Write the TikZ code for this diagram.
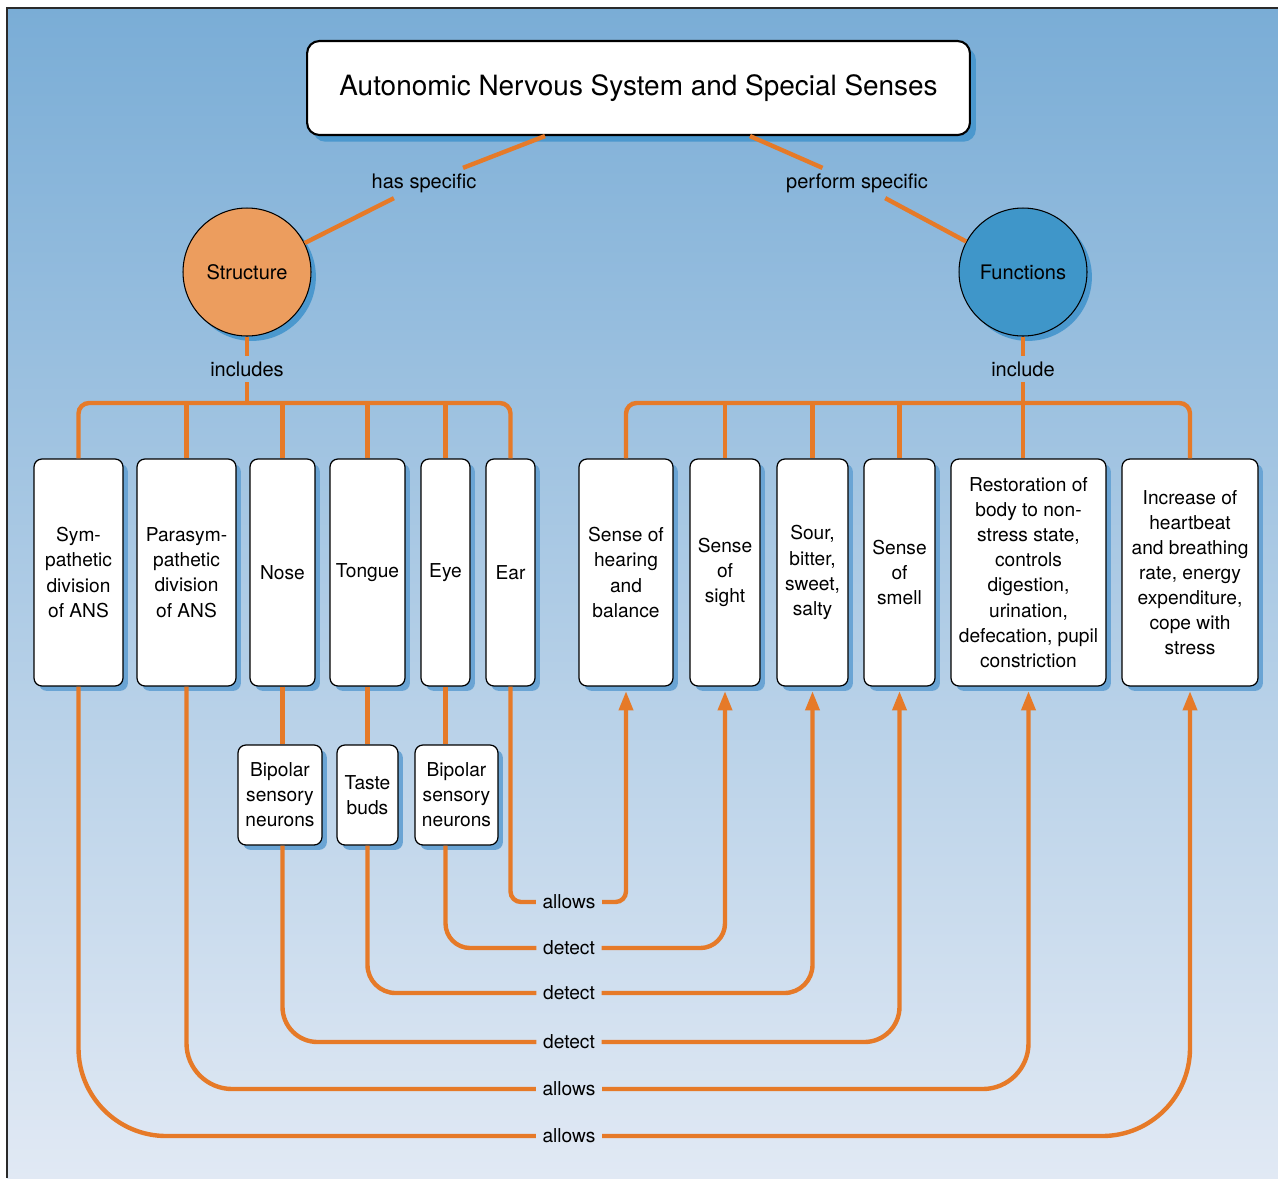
\documentclass[tikz,border=0pt]{standalone}
\usepackage{fontspec}
\setmainfont{TeX Gyre Heros}
\usetikzlibrary{shadows,arrows.meta}
\definecolor{bgtop}{HTML}{7AADD6}
\definecolor{bgbot}{HTML}{E1E9F4}
\definecolor{ora}{HTML}{E67A28}
\definecolor{structfill}{HTML}{EC9D5E}
\definecolor{funcfill}{HTML}{3F96C9}
\definecolor{shadA}{HTML}{4B98CE}
\definecolor{shadB}{HTML}{6AA4D4}
\definecolor{framecol}{HTML}{2A2A2A}
\begin{document}
\begin{tikzpicture}[x=0.02cm,y=-0.02cm,
  titlebox/.style={draw=black, line width=1.2pt, fill=white, rounded corners=7pt,
    minimum width=13.26cm, minimum height=1.88cm, inner sep=0pt,
    font=\fontsize{15.9}{18}\selectfont,
    general shadow={fill=shadA, shadow xshift=3.4pt, shadow yshift=-3.8pt}},
  circ/.style={circle, draw=black, line width=0.6pt, minimum size=2.56cm, inner sep=0pt,
    font=\fontsize{11.4}{13}\selectfont,
    general shadow={fill=shadA, shadow xshift=2.8pt, shadow yshift=-2.8pt}},
  box/.style={draw=black, line width=0.7pt, fill=white, rounded corners=4.5pt,
    align=center, inner sep=1pt, minimum height=4.54cm,
    font=\fontsize{10.9}{14.3}\selectfont,
    general shadow={fill=shadB, shadow xshift=2.8pt, shadow yshift=-2.8pt}},
  sbox/.style={box, minimum height=2.0cm},
  lbl/.style={inner xsep=3pt, inner ysep=3pt, font=\fontsize{11.4}{13}\selectfont},
  blbl/.style={inner xsep=3.6pt, inner ysep=2.5pt, font=\fontsize{10.9}{13}\selectfont},
  conn/.style={draw=ora, line width=2.5pt},
  arr/.style={-{Triangle[length=11pt,width=7.8pt]}}
]
\useasboundingbox (0,0) rectangle (1278,1178);
% background panel
\shade[top color=bgtop, bottom color=bgbot] (7,8) rectangle (1278,1178);
\draw[framecol, line width=1.2pt] (7,1178) -- (7,8) -- (1278,8);

% title and circles
\node[titlebox] (title) at (638.5,88) {Autonomic Nervous System and Special Senses};
\node[circ, fill=structfill] (struct) at (247,272) {Structure};
\node[circ, fill=funcfill] (func) at (1023,272) {Functions};

\node[lbl] (hs) at (424,183) {has specific};
\node[lbl] (pf) at (857,183) {perform specific};
\node[lbl] (incl) at (247,369) {includes};
\node[lbl] (incl2) at (1023,369) {include};

\draw[conn] ([xshift=-1.87cm]title.south) -- (hs) -- (struct);
\draw[conn] ([xshift=2.23cm]title.south) -- (pf) -- (func);

% left boxes
\node[box, minimum width=1.78cm] (sym) at (78.5,572.5) {Sym-\\pathetic\\division\\of ANS};
\node[box, minimum width=1.98cm] (para) at (186.5,572.5) {Parasym-\\pathetic\\division\\of ANS};
\node[box, minimum width=1.30cm] (nose) at (282.5,572.5) {Nose};
\node[box, minimum width=1.50cm] (tongue) at (367.5,572.5) {Tongue};
\node[box, minimum width=0.98cm] (eye) at (445.5,572.5) {Eye};
\node[box, minimum width=0.98cm] (ear) at (510.5,572.5) {Ear};

% right boxes
\node[box, minimum width=1.88cm] (hear) at (626,572.5) {Sense of\\hearing\\and\\balance};
\node[box, minimum width=1.40cm] (sight) at (725,572.5) {Sense\\of\\sight};
\node[box, minimum width=1.42cm] (sour) at (812.5,572.5) {Sour,\\bitter,\\sweet,\\salty};
\node[box, minimum width=1.42cm] (smell) at (899.5,572.5) {Sense\\of\\smell};
\node[box, minimum width=3.10cm] (rest) at (1028.5,572.5) {Restoration of\\body to non-\\stress state,\\controls\\digestion,\\urination,\\defecation, pupil\\constriction};
\node[box, minimum width=2.72cm] (incr) at (1190,572.5) {Increase of\\heartbeat\\and breathing\\rate, energy\\expenditure,\\cope with\\stress};

% lower boxes
\node[sbox, minimum width=1.68cm] (bip1) at (280,795) {Bipolar\\sensory\\neurons};
\node[sbox, minimum width=1.22cm] (taste) at (367.5,795) {Taste\\buds};
\node[sbox, minimum width=1.66cm] (bip2) at (456.5,795) {Bipolar\\sensory\\neurons};

% bars
\coordinate (bar) at (0,403);
\draw[conn, rounded corners=6pt] (sym.north) |- (bar -| ear.north) -- (ear.north);
\foreach \n in {para,nose,tongue,eye} \draw[conn] (\n.north) -- (\n.north |- bar);
\draw[conn] (struct) -- (incl);
\draw[conn] (incl) -- (incl |- bar);

\draw[conn, rounded corners=6pt] (hear.north) |- (bar -| incr.north) -- (incr.north);
\foreach \n in {sight,sour,smell} \draw[conn] (\n.north) -- (\n.north |- bar);
\draw[conn] (func) -- (incl2);
\draw[conn] (incl2) -- (incl2 |- rest.north);

% to lower boxes
\draw[conn] (nose.south) -- (nose.south |- bip1.north);
\draw[conn] (tongue.south) -- (tongue.south |- taste.north);
\draw[conn] (eye.south) -- (eye.south |- bip2.north);

% bottom connectors
\node[blbl] (l1) at (569,902) {allows};
\node[blbl] (l2) at (569,948) {detect};
\node[blbl] (l3) at (569,993) {detect};
\node[blbl] (l4) at (569,1042) {detect};
\node[blbl] (l5) at (569,1089) {allows};
\node[blbl] (l6) at (569,1136) {allows};

\draw[conn, rounded corners=6pt] (ear.south) |- (l1);
\draw[conn, arr, rounded corners=6pt] (l1) -| ([yshift=-2.5pt]hear.south);

\draw[conn, rounded corners=14pt] (eye.south |- bip2.south) |- (l2);
\draw[conn, arr, rounded corners=14pt] (l2) -| ([yshift=-2.5pt]sight.south);

\draw[conn, rounded corners=16pt] (tongue.south |- taste.south) |- (l3);
\draw[conn, arr, rounded corners=16pt] (l3) -| ([yshift=-2.5pt]sour.south);

\draw[conn, rounded corners=20pt] (nose.south |- bip1.south) |- (l4);
\draw[conn, arr, rounded corners=20pt] (l4) -| ([yshift=-2.5pt]smell.south);

\draw[conn, rounded corners=26pt] (para.south) |- (l5);
\draw[conn, arr, rounded corners=26pt] (l5) -| ([yshift=-2.5pt]rest.south);

\draw[conn, rounded corners=50pt] (sym.south) |- (l6);
\draw[conn, arr, rounded corners=50pt] (l6) -| ([yshift=-2.5pt]incr.south);
\end{tikzpicture}
\end{document}
